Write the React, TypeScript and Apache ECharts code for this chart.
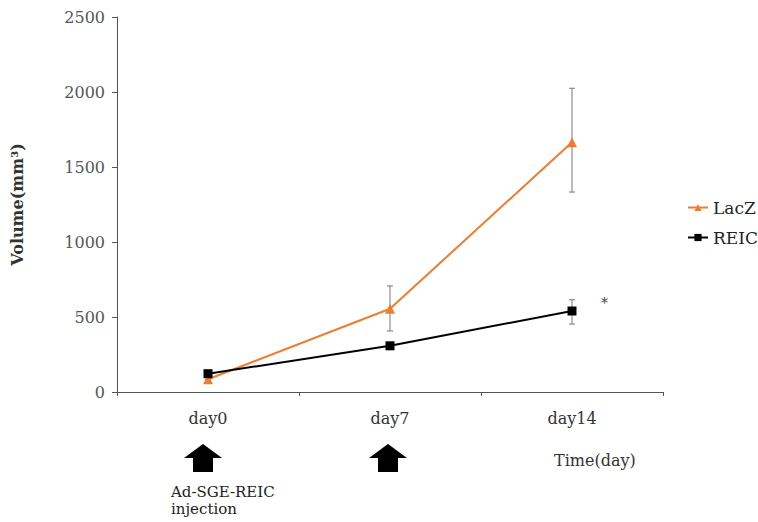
import React, { useEffect, useRef } from "react";
import * as echarts from "echarts";

const categories = ["day0", "day7", "day14"];
const lacZ = [85, 555, 1665];
const lacZLow = [85, 407, 1333];
const lacZHigh = [85, 707, 2025];
const reic = [122, 308, 540];
const reicLow = [122, 295, 453];
const reicHigh = [122, 325, 615];
const yTicks = [0, 500, 1000, 1500, 2000, 2500];

const FONT = "'DejaVu Serif', serif";

export default function App() {
  const ref = useRef<HTMLDivElement>(null);
  useEffect(() => {
    const chart = echarts.init(ref.current!, null, { renderer: "svg" });
    const errRender = (color: string) => (params: any, api: any) => {
      const x = api.value(0);
      const lo = api.coord([x, api.value(1)]);
      const hi = api.coord([x, api.value(2)]);
      const w = 3;
      const style = { stroke: color, lineWidth: 1 };
      return {
        type: "group",
        children: [
          { type: "line", shape: { x1: lo[0], y1: lo[1], x2: hi[0], y2: hi[1] }, style },
          { type: "line", shape: { x1: lo[0] - w, y1: lo[1], x2: lo[0] + w, y2: lo[1] }, style },
          { type: "line", shape: { x1: hi[0] - w, y1: hi[1], x2: hi[0] + w, y2: hi[1] }, style },
        ],
      };
    };
    const arrow = (cx: number, cy: number) => ({
      type: "polygon",
      shape: {
        points: [
          [cx, cy],
          [cx + 19, cy + 14],
          [cx + 10, cy + 14],
          [cx + 10, cy + 28],
          [cx - 10, cy + 28],
          [cx - 10, cy + 14],
          [cx - 19, cy + 14],
        ],
      },
      style: { fill: "#000" },
    });
    chart.setOption({
      animation: false,
      textStyle: { fontFamily: FONT },
      grid: { left: 117, right: 95, top: 17, bottom: 130 },
      legend: {
        orient: "vertical",
        left: 682,
        top: 194,
        itemGap: 13,
        itemWidth: 20,
        itemHeight: 9,
        textStyle: { fontFamily: FONT, fontSize: 17, color: "#222" },
        data: ["LacZ", "REIC"],
      },
      xAxis: {
        type: "category",
        data: categories,
        boundaryGap: true,
        axisLine: { lineStyle: { color: "#555", width: 1 } },
        axisTick: { show: true, length: 4, lineStyle: { color: "#555" } },
        axisLabel: { color: "#333", fontSize: 16, fontFamily: FONT, margin: 18 },
      },
      yAxis: {
        type: "value",
        min: 0,
        max: 2500,
        interval: 500,
        name: "Volume(mm³)",
        nameLocation: "middle",
        nameGap: 92,
        nameTextStyle: { color: "#333", fontSize: 16, fontFamily: FONT, fontWeight: "bold" },
        splitLine: { show: false },
        axisLine: { show: true, lineStyle: { color: "#555", width: 1 } },
        axisTick: { show: true, length: 5, lineStyle: { color: "#555" } },
        axisLabel: {
          color: "#555",
          fontSize: 16,
          fontFamily: FONT,
          margin: 12,
          formatter: (v: number) => (yTicks.includes(v) ? String(v) : ""),
        },
      },
      series: [
        {
          name: "LacZ",
          type: "line",
          data: lacZ,
          symbol: "triangle",
          symbolSize: 10,
          itemStyle: { color: "#ED7D31" },
          lineStyle: { color: "#ED7D31", width: 2 },
          z: 3,
        },
        {
          name: "REIC",
          type: "line",
          data: reic,
          symbol: "rect",
          symbolSize: 9,
          itemStyle: { color: "#000" },
          lineStyle: { color: "#000", width: 2 },
          z: 4,
        },
        {
          type: "custom",
          name: "LacZErr",
          renderItem: errRender("#777"),
          data: categories.map((_, i) => [i, lacZLow[i], lacZHigh[i]]),
          z: 2,
        },
        {
          type: "custom",
          name: "REICErr",
          renderItem: errRender("#777"),
          data: categories.map((_, i) => [i, reicLow[i], reicHigh[i]]),
          z: 2,
        },
      ],
      graphic: [
        arrow(203, 444),
        arrow(388, 444),
        {
          type: "text",
          left: 601,
          top: 296,
          style: { text: "*", font: `14px ${FONT}`, fill: "#444" },
        },
        {
          type: "text",
          left: 554,
          top: 452,
          style: { text: "Time(day)", font: `16px ${FONT}`, fill: "#333" },
        },
        {
          type: "text",
          left: 171,
          top: 484,
          style: { text: "Ad-SGE-REIC", font: `15px ${FONT}`, fill: "#222" },
        },
        {
          type: "text",
          left: 171,
          top: 501,
          style: { text: "injection", font: `15px ${FONT}`, fill: "#222" },
        },
      ],
    });
    return () => chart.dispose();
  }, []);
  return <div ref={ref} style={{ width: 758, height: 522, position: "absolute", left: 0, top: 0 }} />;
}
